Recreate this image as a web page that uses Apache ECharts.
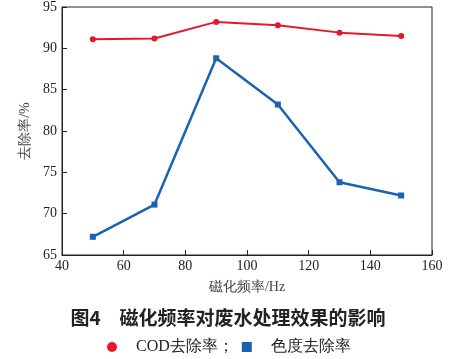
<!DOCTYPE html>
<html><head><meta charset="utf-8">
<script src="https://cdn.jsdelivr.net/npm/echarts@6/dist/echarts.min.js"></script>
<style>html,body{margin:0;padding:0;background:#fff}#c{width:456px;height:359px}</style>
</head><body><div id="c"></div>
<script>
const freq = [50, 70, 90, 110, 130, 150];
const codRemoval = [91.1, 91.2, 93.2, 92.8, 91.9, 91.5];
const colorRemoval = [67.2, 71.1, 88.8, 83.2, 73.8, 72.2];
const xTicks = [40, 60, 80, 100, 120, 140, 160];
const yTicks = [65, 70, 75, 80, 85, 90, 95];
const seriesNames = ['COD去除率', '色度去除率'];
const titleText = '图4\u3000磁化频率对废水处理效果的影响';
const xName = '磁化频率/Hz';
const yName = '去除率/%';

const serif = '"Liberation Serif","Times New Roman",serif';
const cjk = '"Noto Sans CJK SC",sans-serif';
const chart = echarts.init(document.getElementById('c'));
chart.setOption({
  animation: false,
  grid: {left: 62, top: 7, right: 24, bottom: 104, show: true, borderColor: '#222', borderWidth: 1},
  title: {text: titleText, left: 'center', top: 303,
    textStyle: {fontFamily: cjk, fontSize: 19, fontWeight: 'bold', color: '#222'}},
  legend: {
    data: [{name: seriesNames[0], icon: 'circle'}, {name: seriesNames[1], icon: 'rect'}],
    top: 334, left: 102, itemWidth: 10, itemHeight: 10, itemGap: 8,
    formatter: n => n === seriesNames[0] ? 'COD去除率；' : n,
    textStyle: {fontFamily: serif, fontSize: 16, color: '#222', padding: [0, 0, 0, 14]}
  },
  xAxis: {
    type: 'value', min: xTicks[0], max: xTicks[xTicks.length - 1], interval: 20,
    name: xName, nameLocation: 'middle', nameGap: 25,
    nameTextStyle: {fontFamily: serif, fontSize: 14, color: '#444'},
    axisLine: {lineStyle: {color: '#222'}},
    axisTick: {inside: true, length: 5, lineStyle: {color: '#222'}},
    axisLabel: {fontFamily: serif, fontSize: 14, color: '#222', margin: 4},
    splitLine: {show: false}
  },
  yAxis: {
    type: 'value', min: yTicks[0], max: yTicks[yTicks.length - 1], interval: 5,
    name: yName, nameLocation: 'middle', nameGap: 28, nameRotate: 90,
    nameTextStyle: {fontFamily: serif, fontSize: 14, color: '#444'},
    axisLine: {lineStyle: {color: '#222'}},
    axisTick: {inside: true, length: 5, lineStyle: {color: '#222'}},
    axisLabel: {fontFamily: serif, fontSize: 14, color: '#222', margin: 5},
    splitLine: {show: false}
  },
  series: [
    {name: seriesNames[0], type: 'line', data: freq.map((f, i) => [f, codRemoval[i]]),
      symbol: 'circle', symbolSize: 6, itemStyle: {color: '#e8162c'},
      lineStyle: {color: '#e8162c', width: 2}},
    {name: seriesNames[1], type: 'line', data: freq.map((f, i) => [f, colorRemoval[i]]),
      symbol: 'rect', symbolSize: 6, itemStyle: {color: '#1a63b3'},
      lineStyle: {color: '#1a63b3', width: 2.5}}
  ]
});
</script></body></html>
